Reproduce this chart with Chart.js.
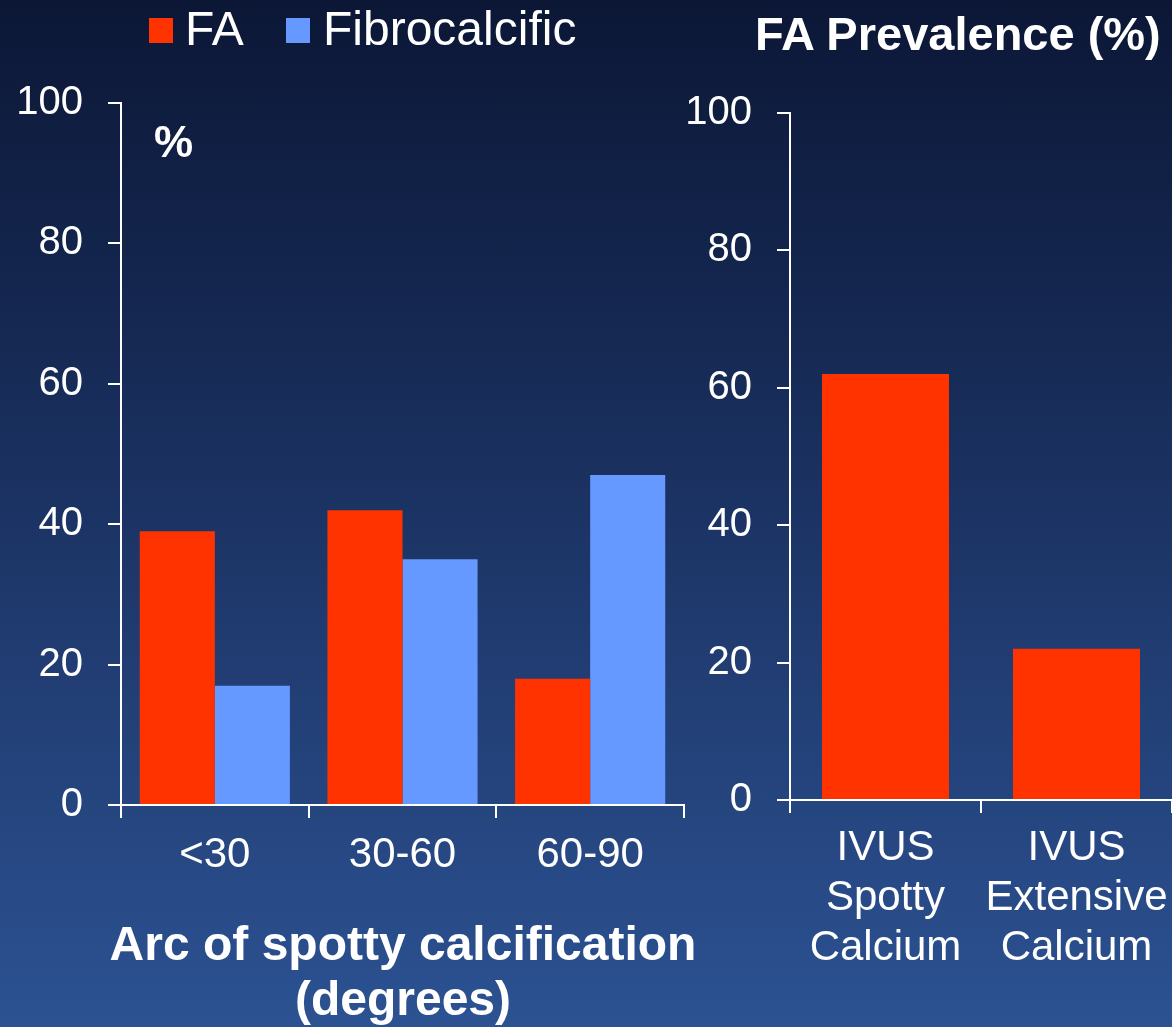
<!DOCTYPE html>
<html>
<head>
<meta charset="utf-8">
<script src="https://cdn.jsdelivr.net/npm/chart.js@4.4.0/dist/chart.umd.min.js"></script>
<style>
  html, body { margin: 0; padding: 0; width: 1172px; height: 1027px; overflow: hidden; }
  body {
    position: relative;
    background: linear-gradient(to bottom, #0c1736 0%, #162a55 35%, #213d73 65%, #2c5292 100%);
    font-family: "Liberation Sans", Arial, sans-serif;
    color: #fff;
  }
  .wrap { position: absolute; }
  #leftWrap { left: 0; top: 0; width: 700px; height: 1040px; }
  #rightWrap { left: 680px; top: 0; width: 500px; height: 1040px; }
  .txt { position: absolute; white-space: nowrap; line-height: 1; }
  .sq { position: absolute; width: 24px; height: 25px; }
  #arcTitle {
    position: absolute; left: 103px; width: 600px; top: 916px;
    text-align: center; font-size: 48px; font-weight: bold; line-height: 55px; white-space: nowrap;
  }
</style>
</head>
<body>
<div class="wrap" id="leftWrap"><canvas id="arcChart"></canvas></div>
<div class="wrap" id="rightWrap"><canvas id="ivusChart"></canvas></div>

<!-- legend + labels -->
<div class="sq" style="left:149px;top:18px;background:#ff3300"></div>
<div class="txt" style="left:185px;top:5px;font-size:48px">FA</div>
<div class="sq" style="left:286px;top:18px;background:#6699ff"></div>
<div class="txt" style="left:323px;top:5px;font-size:48px">Fibrocalcific</div>
<div class="txt" style="left:154px;top:120px;font-size:44px;font-weight:bold">%</div>
<div class="txt" style="left:755px;top:10px;font-size:47px;font-weight:bold">FA Prevalence (%)</div>
<div id="arcTitle">Arc of spotty calcification<br>(degrees)</div>

<script>
// === DATA ===
const arcCategories = ["<30", "30-60", "60-90"];
const faByArc = [39, 42, 18];
const fibroByArc = [17, 35, 47];

const ivusCategories = [["IVUS", "Spotty", "Calcium"], ["IVUS", "Extensive", "Calcium"]];
const faPrevalence = [62, 22];

const yMin = 0, yMax = 100, yStep = 20;

const RED = "#ff3300";
const BLUE = "#6699ff";
const FONT = "'Liberation Sans', Arial, sans-serif";

// === AXIS HELPERS ===
function yAxis(width, padding) {
  return {
    min: yMin, max: yMax,
    ticks: { stepSize: yStep, color: "#fff", padding, font: { family: FONT, size: 40 } },
    grid: { drawOnChartArea: false, color: "#fff", lineWidth: 2, tickLength: 13 },
    border: { color: "#fff", width: 2 },
    afterFit: (scale) => { scale.width = width; }
  };
}

function xAxis(height, padding) {
  return {
    ticks: { color: "#fff", padding, font: { family: FONT, size: 42, lineHeight: 1.19 } },
    grid: { drawOnChartArea: false, color: "#fff", lineWidth: 2, tickLength: 13, offset: true },
    border: { color: "#fff", width: 2 },
    afterFit: (scale) => { scale.height = height; }
  };
}

const common = {
  responsive: true,
  maintainAspectRatio: false,
  animation: false,
  plugins: { legend: { display: false }, tooltip: { enabled: false } }
};

// === LEFT CHART: arc of spotty calcification ===
new Chart(document.getElementById("arcChart"), {
  type: "bar",
  data: {
    labels: arcCategories,
    datasets: [
      { label: "FA", data: faByArc, backgroundColor: RED },
      { label: "Fibrocalcific", data: fibroByArc, backgroundColor: BLUE }
    ]
  },
  options: {
    ...common,
    layout: { padding: { top: 103, right: 16, left: 0, bottom: 0 } },
    datasets: { bar: { categoryPercentage: 0.8, barPercentage: 1.0 } },
    scales: {
      x: xAxis(235, 12),
      y: yAxis(121, 25)
    }
  }
});

// === RIGHT CHART: FA prevalence by IVUS calcium ===
new Chart(document.getElementById("ivusChart"), {
  type: "bar",
  data: {
    labels: ivusCategories,
    datasets: [
      { label: "FA", data: faPrevalence, backgroundColor: RED }
    ]
  },
  options: {
    ...common,
    layout: { padding: { top: 113, right: 8, left: 0, bottom: 0 } },
    datasets: { bar: { categoryPercentage: 0.665, barPercentage: 1.0 } },
    scales: {
      x: xAxis(240, 10),
      y: yAxis(110, 25)
    }
  }
});
</script>
</body>
</html>
